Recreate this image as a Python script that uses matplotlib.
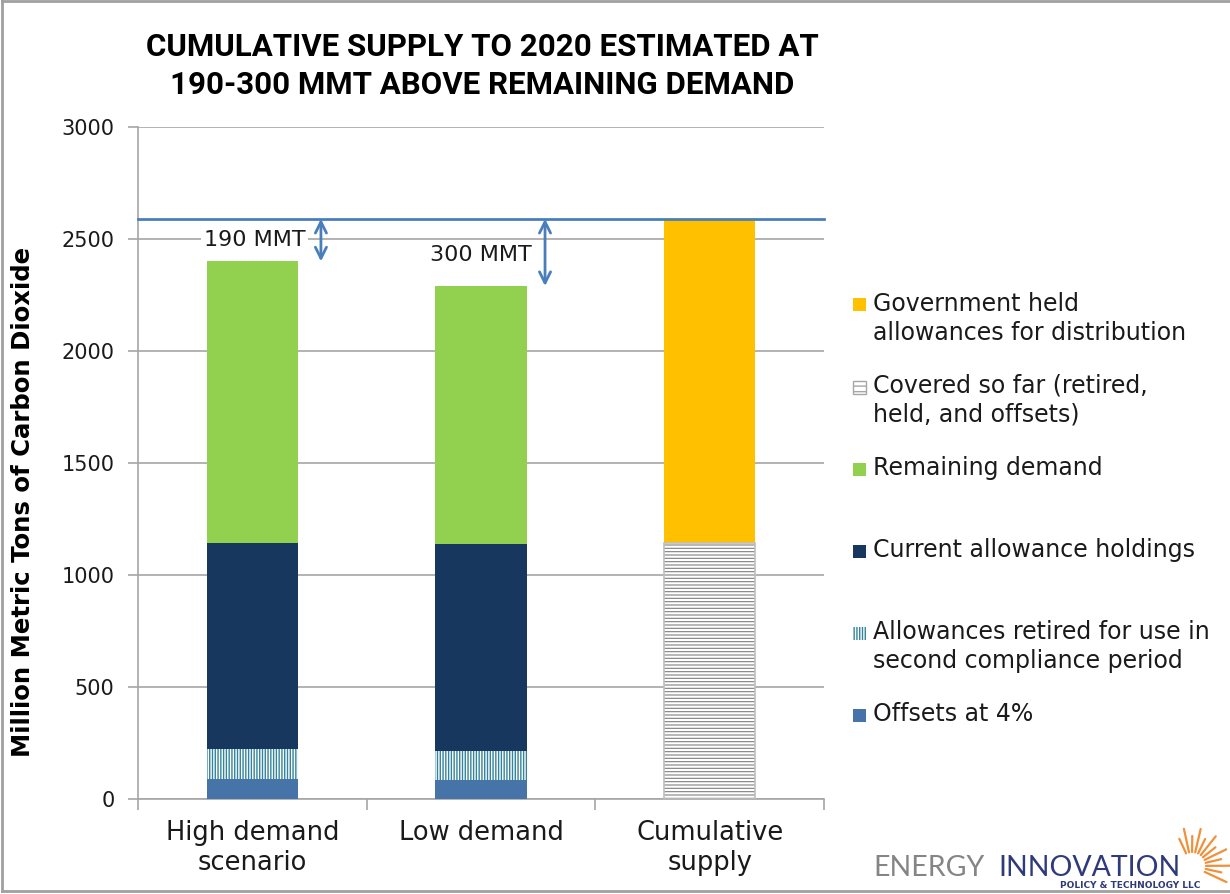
import matplotlib
matplotlib.use("Agg")
import matplotlib.pyplot as plt
from matplotlib.patches import Rectangle
from matplotlib.lines import Line2D
import numpy as np

plt.rcParams['font.family'] = ['DejaVu Sans']

# ---- data -------------------------------------------------------------
categories = ["High demand\nscenario", "Low demand", "Cumulative\nsupply"]
offsets = [90, 86, 0]
retired_second_period = [133, 130, 0]
current_holdings = [921, 924, 0]
remaining_demand = [1256, 1150, 0]
covered_so_far = [0, 0, 1141]
government_held = [0, 0, 1449]

supply_total = 2590
gap_labels = ["190 MMT", "300 MMT"]

y_ticks = [0, 500, 1000, 1500, 2000, 2500, 3000]

# ---- colours ----------------------------------------------------------
C_OFFSETS = "#4673A8"
C_RETIRED = "#31849B"
C_HOLDINGS = "#17375E"
C_REMAINING = "#92D050"
C_COVERED = "#808080"
C_GOV = "#FFC000"
C_LINE = "#4A7EBB"
C_GRID = "#A6A6A6"
C_TEXT = "#1a1a1a"

W, H = 1230, 894
fig = plt.figure(figsize=(W / 100, H / 100), dpi=100)


def fx(px):
    return px / W


def fy(py):
    return 1 - py / H


ax = fig.add_axes([fx(138), fy(799), fx(824) - fx(138), fy(127) - fy(799)])

x = np.arange(len(categories))
bw = 0.40

bottom = np.zeros(len(categories))
ax.bar(x, offsets, bw, bottom=bottom, color=C_OFFSETS, linewidth=0, zorder=3)
bottom += offsets

with plt.rc_context({"hatch.linewidth": 1.0}):
    ax.bar(x, retired_second_period, bw, bottom=bottom, facecolor="white",
           edgecolor=C_RETIRED, hatch="||||||", linewidth=0, zorder=3)
bottom += retired_second_period

ax.bar(x, current_holdings, bw, bottom=bottom, color=C_HOLDINGS, linewidth=0, zorder=3)
bottom += current_holdings

ax.bar(x, remaining_demand, bw, bottom=bottom, color=C_REMAINING, linewidth=0, zorder=3)
bottom += remaining_demand

with plt.rc_context({"hatch.linewidth": 0.8}):
    ax.bar(x, covered_so_far, bw, bottom=bottom, facecolor="white",
           edgecolor=C_COVERED, hatch="-----", linewidth=0, zorder=3)
ax.bar(x[2:], np.array(covered_so_far)[2:], bw, bottom=bottom[2:], fill=False,
       edgecolor="#BFBFBF", linewidth=1.2, zorder=4)
bottom += covered_so_far

ax.bar(x, government_held, bw, bottom=bottom, color=C_GOV, linewidth=0, zorder=3)

# supply line and gap arrows
ax.axhline(supply_total, color=C_LINE, lw=2, zorder=5, clip_on=False)
demand_totals = [offsets[i] + retired_second_period[i] + current_holdings[i] + remaining_demand[i]
                 for i in range(2)]
arrow_x = [0.30, 1.28]
label_pos = [(0.01, 2495), (1.0, 2428)]
for i in range(2):
    ax.annotate("", xy=(arrow_x[i], demand_totals[i]), xytext=(arrow_x[i], supply_total),
                arrowprops=dict(arrowstyle="<->", color=C_LINE, lw=2,
                                shrinkA=0, shrinkB=0, mutation_scale=20), zorder=6)
    ax.text(label_pos[i][0], label_pos[i][1], gap_labels[i], ha="center", va="center",
            fontsize=16, color=C_TEXT, zorder=6,
            bbox=dict(facecolor="white", edgecolor="none", pad=2))

# axes styling
ax.set_xlim(-0.5, 2.5)
ax.set_ylim(0, 3000)
ax.set_yticks(y_ticks)
ax.set_yticklabels([str(v) for v in y_ticks], fontsize=15, color=C_TEXT)
ax.yaxis.grid(True, color=C_GRID, lw=1.2, zorder=0)
ax.set_axisbelow(True)
ax.tick_params(axis="y", length=7, width=1.2, color=C_GRID, pad=10)
ax.set_xticks(x)
ax.set_xticklabels(categories, fontsize=18.5, color=C_TEXT, linespacing=1.2)
ax.tick_params(axis="x", length=0, pad=15)
ax.set_xticks([-0.5, 0.5, 1.5, 2.5], minor=True)
ax.tick_params(axis="x", which="minor", length=8, width=1.2, color=C_GRID)
for s in ["top", "right"]:
    ax.spines[s].set_visible(False)
for s in ["left", "bottom"]:
    ax.spines[s].set_color(C_GRID)
    ax.spines[s].set_linewidth(1.2)

ax.set_ylabel("Million Metric Tons of Carbon Dioxide", fontsize=17.6, fontweight="bold",
              color="black")
ax.yaxis.set_label_coords(-0.150, 0.442)

# title
fig.text(fx(482), fy(66),
         "CUMULATIVE SUPPLY TO 2020 ESTIMATED AT\n190-300 MMT ABOVE REMAINING DEMAND",
         ha="center", va="center", fontsize=22.5, fontweight="bold",
         family=["Roboto", "DejaVu Sans"], linespacing=1.3)

# legend
legend_items = [
    ("Government held\nallowances for distribution", dict(facecolor=C_GOV, edgecolor="none")),
    ("Covered so far (retired,\nheld, and offsets)",
     dict(facecolor="white", edgecolor="#A6A6A6", hatch="---", linewidth=1.0)),
    ("Remaining demand", dict(facecolor=C_REMAINING, edgecolor="none")),
    ("Current allowance holdings", dict(facecolor=C_HOLDINGS, edgecolor="none")),
    ("Allowances retired for use in\nsecond compliance period",
     dict(facecolor="white", edgecolor=C_RETIRED, hatch="||||||", linewidth=0)),
    ("Offsets at 4%", dict(facecolor=C_OFFSETS, edgecolor="none")),
]
for i, (label, style) in enumerate(legend_items):
    yc = 305 + 82 * i
    fig.patches.append(Rectangle((fx(853), fy(yc + 6.5)), fx(13), 13 / H,
                                 transform=fig.transFigure, **style))
    fig.text(fx(873), fy(yc - 13), label, ha="left", va="top", fontsize=17, color=C_TEXT,
             linespacing=1.25, transform=fig.transFigure)

# logo
fig.text(fx(873), fy(876), "ENERGY", ha="left", va="baseline", fontsize=20.5,
         color="#858585", family=["Lato", "DejaVu Sans"])
fig.text(fx(1181), fy(876), "INNOVATION", ha="right", va="baseline", fontsize=20.5,
         color="#2E3A7A", family=["Lato", "DejaVu Sans"])
fig.text(fx(1200), fy(881), "POLICY & TECHNOLOGY LLC", ha="right", va="top", fontsize=6.5,
         color="#2E3A7A", fontweight="bold")
cx, cy = 1192, 866
for k, ang in enumerate(np.linspace(-25, 115, 12)):
    a = np.deg2rad(ang)
    r0, r1 = 14, (38 if k % 2 == 0 else 30)
    fig.lines.append(Line2D([fx(cx + r0 * np.cos(a)), fx(cx + r1 * np.cos(a))],
                            [fy(cy - r0 * np.sin(a)), fy(cy - r1 * np.sin(a))],
                            transform=fig.transFigure, color="#F0903A", lw=1.6,
                            solid_capstyle="round"))

# slide frame
for xs, ys in [([2, 2], [1, 891]), ([2, 1230], [1, 1]), ([2, 1230], [891, 891])]:
    fig.lines.append(Line2D([fx(v) for v in xs], [fy(v) for v in ys],
                            transform=fig.transFigure, color="#A0A0A0", lw=2))

fig.savefig("out.png", dpi=100, facecolor="white")
